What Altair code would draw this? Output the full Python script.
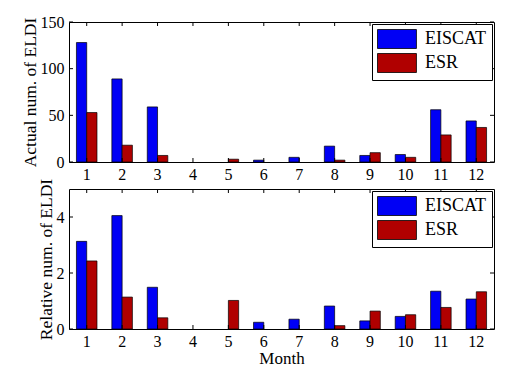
import altair as alt
import pandas as pd

months = list(range(1, 13))
series_names = ["EISCAT", "ESR"]
series_colors = ["#0000F5", "#B00000"]

eiscat_actual = [128, 89, 59, 0, 0, 2, 5, 17, 7, 8, 56, 44]
esr_actual = [53, 18, 7, 0, 3, 0, 0, 2, 10, 5, 29, 37]
eiscat_rel = [3.13, 4.05, 1.49, 0, 0, 0.24, 0.35, 0.82, 0.29, 0.45, 1.35, 1.07]
esr_rel = [2.43, 1.14, 0.40, 0, 1.02, 0, 0, 0.12, 0.64, 0.51, 0.77, 1.33]

top_ticks = [0, 50, 100, 150]
bottom_ticks = [0, 2, 4]

FONT = "Liberation Serif"
W, H = 425, 140
TL = 4  # inward tick length


def panel(a, b, ytitle, ydomain, yticks, xtitle):
    df = pd.DataFrame({
        "month": months * 2,
        "series": [series_names[0]] * 12 + [series_names[1]] * 12,
        "value": a + b,
    })
    xaxis = dict(labelAngle=0, tickSize=0, domain=False, labelPadding=4,
                 labelFont=FONT, labelFontSize=16, labelColor="black")
    if xtitle:
        xaxis.update(titleFont=FONT, titleFontSize=17, titleFontWeight="normal",
                     titleColor="black", titlePadding=1)
    xenc = alt.X(
        "month:O",
        title=xtitle,
        scale=alt.Scale(paddingInner=0.42, paddingOuter=0.21),
        axis=alt.Axis(**xaxis),
    )
    yscale = alt.Scale(domain=ydomain, nice=False, zero=True)
    yenc = alt.Y(
        "value:Q", scale=yscale,
        axis=alt.Axis(values=yticks, tickSize=0, domain=False, grid=False,
                      title=ytitle, labelPadding=5, labelFont=FONT,
                      labelFontSize=16, labelColor="black", titleFont=FONT,
                      titleFontSize=17.5, titleFontWeight="normal",
                      titleColor="black", titlePadding=1),
    )
    bars = alt.Chart(df).transform_filter("datum.value > 0").mark_bar(
        stroke="black", strokeWidth=0.7).encode(
        x=xenc,
        xOffset=alt.XOffset("series:N", sort=series_names),
        y=yenc,
        color=alt.Color(
            "series:N",
            scale=alt.Scale(domain=series_names, range=series_colors),
            legend=alt.Legend(
                title=None, orient="top-right", offset=2,
                fillColor="white", strokeColor="black", padding=5,
                symbolType="M-1,-1H3.1V1H-1Z", symbolSize=361,
                symbolStrokeColor="black", symbolStrokeWidth=0.8,
                labelFont=FONT, labelFontSize=18, labelColor="black",
                labelOffset=28, rowPadding=0,
            ),
        ),
    )
    mdf = pd.DataFrame({"month": months})
    xt_top = alt.Chart(mdf).mark_rule(color="black", strokeWidth=1).encode(
        x=xenc, y=alt.value(0), y2=alt.value(TL))
    xt_bot = alt.Chart(mdf).mark_rule(color="black", strokeWidth=1).encode(
        x=xenc, y=alt.value(H), y2=alt.value(H - TL))
    tdf = pd.DataFrame({"value": yticks})
    yt_left = alt.Chart(tdf).mark_rule(color="black", strokeWidth=1).encode(
        y=yenc, x=alt.value(0), x2=alt.value(TL))
    yt_right = alt.Chart(tdf).mark_rule(color="black", strokeWidth=1).encode(
        y=yenc, x=alt.value(W), x2=alt.value(W - TL))
    return alt.layer(bars, xt_top, xt_bot, yt_left, yt_right).properties(
        width=W, height=H)


top = panel(eiscat_actual, esr_actual, "Actual num. of ELDI", [0, 150],
            top_ticks, None)
bottom = panel(eiscat_rel, esr_rel, "Relative num. of ELDI", [0, 5],
               bottom_ticks, "Month")

chart = alt.vconcat(top, bottom, spacing=27, bounds="flush").resolve_legend(
    color="independent"
).properties(
    padding={"left": 12, "top": 5, "right": 5, "bottom": 0},
    background="white",
).configure_view(stroke="black", strokeWidth=1)

chart.save("out.html", embed_options={"renderer": "svg", "actions": False})
